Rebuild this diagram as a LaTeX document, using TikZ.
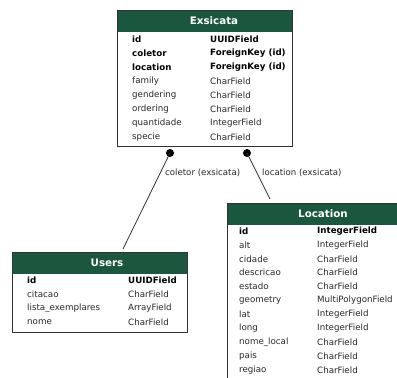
\documentclass[tikz,border=0pt]{standalone}
\usepackage{fontspec}
\setmainfont{DejaVu Sans}
\definecolor{white}{RGB}{255,255,255}
\definecolor{black}{RGB}{0,0,0}
\definecolor{table_green}{RGB}{27,86,63}
\definecolor{border_grey}{RGB}{50,50,50}
\definecolor{text_grey}{RGB}{40,40,40}

\tikzset{
	tablebox/.style={draw=border_grey,line width=0.9pt,inner sep=0pt,anchor=north west},
	headbox/.style={fill=table_green,inner sep=0pt,anchor=north west},
	title/.style={text=white,inner sep=0pt,font=\fontsize{10.3}{12}\selectfont\bfseries},
	field/.style={anchor=west,inner sep=0pt,text=text_grey,font=\fontsize{8.7}{10}\selectfont},
	keyfield/.style={anchor=west,inner sep=0pt,text=black,font=\fontsize{8.7}{10}\selectfont\bfseries},
	port/.style={circle,fill=black,inner sep=0pt,minimum size=8pt},
	relation/.style={anchor=west,inner sep=0pt,text=text_grey,font=\fontsize{8.6}{10}\selectfont}
}

\begin{document}
\begin{tikzpicture}[x=1pt,y=-1pt]
	\useasboundingbox[fill=white] (0,0) rectangle (397,378);

	% Exsicata
	\node[headbox,minimum width=175pt,minimum height=22pt] (exsicata-head) at (117,10) {};
	\node[tablebox,minimum width=175pt,minimum height=136pt] (exsicata) at (117,10) {};
	\node[title] (exsicata-title) at (214,21) {Exsicata};
	\foreach \name/\type [count=\i] in {id/UUIDField,coletor/ForeignKey (id),location/ForeignKey (id)} {
		\node[keyfield] (exsicata-f\i) at (132,25+14*\i) {\name};
		\node[keyfield] (exsicata-t\i) at (210,25+14*\i) {\type};
	}
	\foreach \name/\type [count=\i from 4] in {family/CharField,gendering/CharField,ordering/CharField,quantidade/IntegerField,specie/CharField} {
		\node[field] (exsicata-f\i) at (132,25+14*\i) {\name};
		\node[field] (exsicata-t\i) at (210,25+14*\i) {\type};
	}

	% Users
	\node[headbox,minimum width=175pt,minimum height=22pt] (users-head) at (12,252) {};
	\node[tablebox,minimum width=175pt,minimum height=80pt] (users) at (12,252) {};
	\node[title] (users-title) at (107,263) {Users};
	\node[keyfield] (users-f1) at (27,280) {id};
	\node[keyfield] (users-t1) at (128,280) {UUIDField};
	\foreach \name/\type [count=\i from 2] in {citacao/CharField,lista\_exemplares/ArrayField,nome/CharField} {
		\node[field] (users-f\i) at (27,266+14*\i) {\name};
		\node[field] (users-t\i) at (128,266+14*\i) {\type};
	}

	% Location
	\node[headbox,minimum width=193pt,minimum height=22pt] (location-head) at (227,203) {};
	\node[tablebox,minimum width=193pt,minimum height=190pt] (location) at (227,203) {};
	\node[title] (location-title) at (323,214) {Location};
	\node[keyfield] (location-f1) at (239,231) {id};
	\node[keyfield] (location-t1) at (317,231) {IntegerField};
	\foreach \name/\type [count=\i from 2] in {alt/IntegerField,cidade/CharField,descricao/CharField,estado/CharField,geometry/MultiPolygonField,lat/IntegerField,long/IntegerField,nome\_local/CharField,pais/CharField,regiao/CharField} {
		\node[field] (location-f\i) at (239,217.1+13.9*\i) {\name};
		\node[field] (location-t\i) at (317,217.1+13.9*\i) {\type};
	}

	% relations
	\node[port] (coletor-port) at (170,153) {};
	\node[port] (location-port) at (247,153) {};
	\coordinate (users-end) at (123,249);
	\coordinate (location-end) at (270,199);
	\foreach \x/\y in {coletor-port/users-end,location-port/location-end}
		\draw[border_grey,line width=0.8pt] (\x.center) -- (\y);
	\node[relation] (coletor-label) at (165,173) {coletor (exsicata)};
	\node[relation] (location-label) at (262,173) {location (exsicata)};
\end{tikzpicture}
\end{document}
